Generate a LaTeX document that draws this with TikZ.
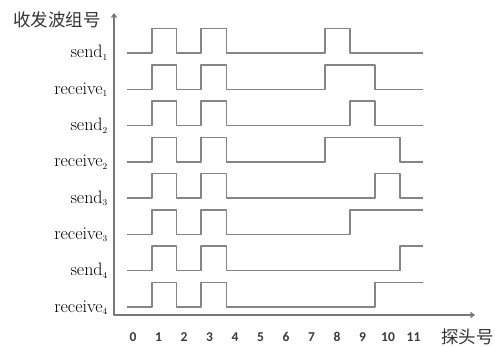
\documentclass[tikz,border=0pt]{standalone}
\usepackage{fontspec}
\newfontfamily\cjkfont{Noto Sans CJK SC}
\newfontfamily\numfont{Carlito}
\usetikzlibrary{arrows.meta}
\definecolor{sigcol}{HTML}{858585}
\definecolor{numcol}{HTML}{3A3A3A}
\tikzset{
  sig/.style={draw=sigcol, line width=1.5pt, line join=round},
  axisline/.style={draw=sigcol!90!black, line width=1.2pt, line join=round},
  lbl/.style={anchor=base east, inner sep=0pt, font=\fontsize{18}{20}\selectfont},
  ticklbl/.style={inner sep=0pt, text=numcol, font=\numfont\bfseries\fontsize{13.5}{15}\selectfont},
  cjk/.style={inner sep=0pt, text=black!80, font=\cjkfont\fontsize{17.5}{20}\selectfont}
}
\begin{document}
\begin{tikzpicture}[x=1pt,y=1pt]
\useasboundingbox (0,0) rectangle (495,346);
% axes
\coordinate (origin) at (114,31);
\coordinate (ytop) at (114,333);
\coordinate (xend) at (475,31);
\draw[axisline, {Straight Barb[length=3.5pt,width=5pt]}-{Straight Barb[length=3.5pt,width=5pt]}] (ytop) -- (origin) -- (xend);
\node[cjk, anchor=east] (ytitle) at (101,326) {收发波组号};
\node[cjk, anchor=west] (xtitle) at (441,9) {探头号};
% tick labels
\foreach \k in {0,...,11} {
  \node[ticklbl] (t\k) at ({133+25.5*\k},9) {\k};
}
% signal labels (low level y values)
\def\Ya{293}   \def\Yb{256.7} \def\Yc{220.4} \def\Yd{184.1}
\def\Ye{147.9} \def\Yf{111.6} \def\Yg{75.3}  \def\Yh{39}
\def\H{24.5}
\node[lbl] (s1) at (108,\Ya-5) {send$_{\scriptscriptstyle 1}$};
\node[lbl] (r1) at (108,\Yb-5) {receive$_{\scriptscriptstyle 1}$};
\node[lbl] (s2) at (108,\Yc-5) {send$_{\scriptscriptstyle 2}$};
\node[lbl] (r2) at (108,\Yd-5) {receive$_{\scriptscriptstyle 2}$};
\node[lbl] (s3) at (108,\Ye-5) {send$_{\scriptscriptstyle 3}$};
\node[lbl] (r3) at (108,\Yf-5) {receive$_{\scriptscriptstyle 3}$};
\node[lbl] (s4) at (108,\Yg-5) {send$_{\scriptscriptstyle 4}$};
\node[lbl] (r4) at (108,\Yh-5) {receive$_{\scriptscriptstyle 4}$};
% waveforms
% send1
\draw[sig] (127,\Ya) -| (152,\Ya+\H) -| (176.5,\Ya) -| (201,\Ya+\H) -| (226.5,\Ya)
  -| (325,\Ya+\H) -| (350,\Ya) -- (423,\Ya);
% receive1
\draw[sig] (127,\Yb) -| (152,\Yb+\H) -| (176.5,\Yb) -| (201,\Yb+\H) -| (226.5,\Yb)
  -| (325,\Yb+\H) -| (375,\Yb) -- (423,\Yb);
% send2
\draw[sig] (127,\Yc) -| (152,\Yc+\H) -| (176.5,\Yc) -| (201,\Yc+\H) -| (226.5,\Yc)
  -| (350,\Yc+\H) -| (375,\Yc) -- (423,\Yc);
% receive2
\draw[sig] (127,\Yd) -| (152,\Yd+\H) -| (176.5,\Yd) -| (201,\Yd+\H) -| (226.5,\Yd)
  -| (325,\Yd+\H) -| (400,\Yd) -- (423,\Yd);
% send3
\draw[sig] (127,\Ye) -| (152,\Ye+\H) -| (176.5,\Ye) -| (201,\Ye+\H) -| (226.5,\Ye)
  -| (375,\Ye+\H) -| (400,\Ye) -- (423,\Ye);
% receive3
\draw[sig] (127,\Yf) -| (152,\Yf+\H) -| (176.5,\Yf) -| (201,\Yf+\H) -| (226.5,\Yf)
  -| (350,\Yf+\H) -- (423,\Yf+\H);
% send4
\draw[sig] (127,\Yg) -| (152,\Yg+\H) -| (176.5,\Yg) -| (201,\Yg+\H) -| (226.5,\Yg)
  -| (400,\Yg+\H) -- (423,\Yg+\H);
% receive4
\draw[sig] (127,\Yh) -| (152,\Yh+\H) -| (176.5,\Yh) -| (201,\Yh+\H) -| (226.5,\Yh)
  -| (375,\Yh+\H) -- (423,\Yh+\H);
\end{tikzpicture}
\end{document}
